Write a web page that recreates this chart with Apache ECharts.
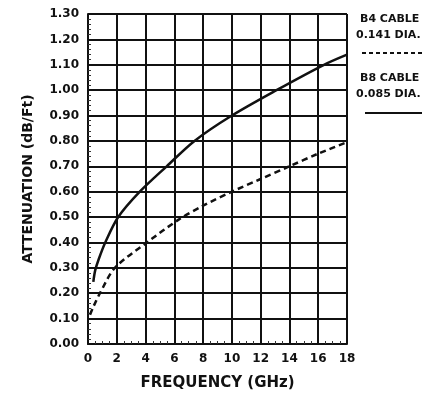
<!DOCTYPE html>
<html>
<head>
<meta charset="utf-8">
<script src="https://cdn.jsdelivr.net/npm/echarts@6/dist/echarts.min.js"></script>
<style>
html,body{margin:0;padding:0;background:#fff;}
#c{width:437px;height:396px;}
</style>
</head>
<body>
<div id="c"></div>
<script>
// Data
const b8Freq  = [0.37, 0.5, 0.75, 1.2, 2.1, 3.6, 5.47, 7.4, 10.0, 13.1, 16.4, 18.0];
const b8Atten = [0.245, 0.29, 0.335, 0.40, 0.50, 0.60, 0.70, 0.80, 0.90, 1.00, 1.10, 1.14];
const b4Freq  = [0.14, 0.4, 0.83, 1.87, 4.1, 6.3, 8.0, 10.0, 12.0, 14.0, 16.0, 18.0];
const b4Atten = [0.115, 0.15, 0.20, 0.30, 0.40, 0.49, 0.545, 0.60, 0.65, 0.70, 0.75, 0.795];
const legendB4 = ['B4 CABLE', '0.141 DIA.'];
const legendB8 = ['B8 CABLE', '0.085 DIA.'];
const xTitle = 'FREQUENCY (GHz)';
const yTitle = 'ATTENUATION (dB/Ft)';

const pair = (xs, ys) => xs.map((x, i) => [x, ys[i]]);
const FONT = '"DejaVu Sans", Arial, sans-serif';
const chart = echarts.init(document.getElementById('c'), null, {renderer: 'canvas'});
chart.setOption({
  animation: false,
  backgroundColor: '#fff',
  grid: {left: 88, top: 14, width: 259, height: 330, containLabel: false},
  xAxis: {
    type: 'value', min: 0, max: 18, interval: 2,
    axisLine: {show: true, lineStyle: {color: '#111', width: 2}},
    axisTick: {show: false, inside: true},
    minorTick: {show: true, splitNumber: 4, length: 3, lineStyle: {color: '#333', width: 1}},
    splitLine: {show: true, lineStyle: {color: '#111', width: 2}},
    axisLabel: {color: '#111', fontFamily: FONT, fontWeight: 'bold', fontSize: 12, margin: 9},
    name: xTitle, nameLocation: 'middle', nameGap: 32,
    nameTextStyle: {color: '#111', fontFamily: FONT, fontWeight: 'bold', fontSize: 15}
  },
  yAxis: {
    type: 'value', min: 0, max: 1.3, interval: 0.1,
    axisLine: {show: true, lineStyle: {color: '#111', width: 2}},
    axisTick: {show: false, inside: true},
    minorTick: {show: true, splitNumber: 5, length: 3, lineStyle: {color: '#333', width: 1}},
    splitLine: {show: true, lineStyle: {color: '#111', width: 2}},
    axisLabel: {color: '#111', fontFamily: FONT, fontWeight: 'bold', fontSize: 12, margin: 9,
      formatter: v => v.toFixed(2)},
    name: yTitle, nameLocation: 'middle', nameGap: 53, nameRotate: 90,
    nameTextStyle: {color: '#111', fontFamily: FONT, fontWeight: 'bold', fontSize: 14}
  },
  series: [
    {name: legendB8.join(' '), type: 'line', data: pair(b8Freq, b8Atten), showSymbol: false, smooth: 0.3,
      lineStyle: {color: '#111', width: 2.5, type: 'solid'}},
    {name: legendB4.join(' '), type: 'line', data: pair(b4Freq, b4Atten), showSymbol: false, smooth: 0.3,
      lineStyle: {color: '#111', width: 2.5, type: [6, 4]}}
  ],
  graphic: [
    {type: 'text', left: 360, top: 14, style: {text: legendB4[0], font: 'bold 11px ' + FONT, fill: '#111'}},
    {type: 'text', left: 356, top: 30, style: {text: legendB4[1], font: 'bold 11px ' + FONT, fill: '#111'}},
    {type: 'line', shape: {x1: 362, y1: 53, x2: 422, y2: 53}, style: {stroke: '#111', lineWidth: 2, lineDash: [4, 3]}},
    {type: 'text', left: 360, top: 73, style: {text: legendB8[0], font: 'bold 11px ' + FONT, fill: '#111'}},
    {type: 'text', left: 356, top: 89, style: {text: legendB8[1], font: 'bold 11px ' + FONT, fill: '#111'}},
    {type: 'line', shape: {x1: 365, y1: 113, x2: 422, y2: 113}, style: {stroke: '#111', lineWidth: 2}}
  ]
});
</script>
</body>
</html>
